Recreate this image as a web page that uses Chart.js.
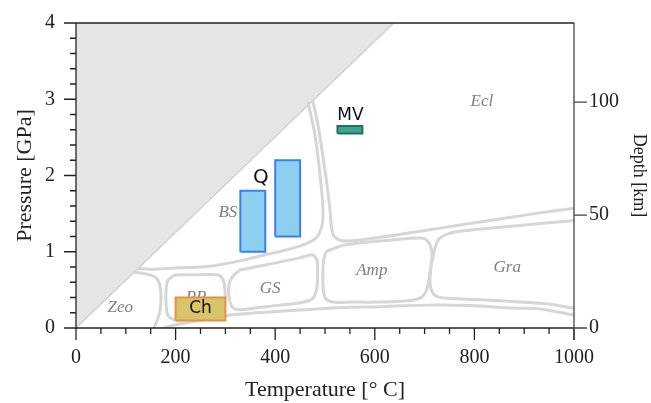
<!DOCTYPE html>
<html>
<head>
<meta charset="utf-8">
<script src="https://cdn.jsdelivr.net/npm/chart.js@4.4.1/dist/chart.umd.min.js"></script>
<style>
  html, body { margin: 0; padding: 0; background: #ffffff; }
  canvas { display: block; }
</style>
</head>
<body>
<canvas id="pt" width="651" height="403"></canvas>
<script>
// ---- axes -------------------------------------------------------------
const tempTicks  = [0, 200, 400, 600, 800, 1000];
const tempMinor  = [50, 100, 150, 250, 300, 350, 450, 500, 550, 650, 700, 750, 850, 900, 950];
const pressTicks = [0, 1, 2, 3, 4];
const pressMinor = [0.2, 0.4, 0.6, 0.8, 1.2, 1.4, 1.6, 1.8, 2.2, 2.4, 2.6, 2.8, 3.2, 3.4, 3.6, 3.8];
const depthTicks = [0, 50, 100];
const depthAtTop = 135;          // km at 4 GPa

// ---- forbidden (unrealistically low dT/dP) zone edge ------------------
const forbiddenEdge = [[0, 0], [638, 4]];

// ---- facies field boundaries [T (°C), P (GPa)] ------------------------
const blueschistEdge = [[466, 2.95], [478, 2.60], [486, 2.24], [492, 1.88], [496, 1.55], [494, 1.35],
  [482, 1.18], [456, 1.09], [420, 1.02], [380, 0.96], [329, 0.88], [269, 0.81], [209, 0.79],
  [149, 0.77], [124, 0.78]];
const eclogiteEdge = [[475, 2.99], [486, 2.66], [496, 2.24], [504, 1.88], [510, 1.55], [514, 1.28],
  [522, 1.18], [542, 1.14], [610, 1.19], [691, 1.27], [771, 1.35], [851, 1.43], [932, 1.51], [1000, 1.57]];
const granuliteEdge = [[1000, 1.41], [932, 1.37], [851, 1.32], [771, 1.27], [745, 1.23], [727, 1.15],
  [717, 0.94], [711, 0.69], [713, 0.51], [723, 0.42], [745, 0.39], [811, 0.37], [892, 0.34],
  [952, 0.31], [1000, 0.26]];
const amphiboliteEdge = [[512, 1.03], [540, 1.09], [610, 1.14], [681, 1.18], [701, 1.17], [711, 1.09],
  [715, 0.96], [711, 0.73], [705, 0.52], [695, 0.41], [671, 0.36], [610, 0.34], [550, 0.34],
  [515, 0.34], [500, 0.40], [496, 0.56], [496, 0.76], [498, 0.92], [503, 1.00], [512, 1.03]];
const greenschistEdge = [[329, 0.76], [390, 0.84], [450, 0.92], [474, 0.96], [484, 0.89], [485, 0.69],
  [483, 0.50], [474, 0.38], [450, 0.33], [410, 0.30], [369, 0.27], [329, 0.24], [313, 0.28],
  [307, 0.43], [307, 0.56], [315, 0.68], [329, 0.76]];
const prehnitePumpellyiteEdge = [[199, 0.695], [249, 0.70], [285, 0.695], [295, 0.64], [299, 0.50],
  [299, 0.30], [293, 0.18], [269, 0.14], [229, 0.12], [199, 0.105], [185, 0.16], [181, 0.30],
  [181, 0.50], [185, 0.63], [199, 0.695]];
const zeoliteEdge = [[116, 0.73], [140, 0.71], [156, 0.68], [165, 0.62], [170, 0.50], [170, 0.30],
  [166, 0.16], [157, 0]];
const lowGradeEdge = [[177, 0], [199, 0.04], [249, 0.10], [309, 0.17], [410, 0.22], [510, 0.26],
  [610, 0.28], [711, 0.30], [811, 0.29], [851, 0.27], [892, 0.26], [932, 0.25], [1000, 0.17]];

const faciesBoundaries = [blueschistEdge, eclogiteEdge, granuliteEdge, amphiboliteEdge,
  greenschistEdge, prehnitePumpellyiteEdge, zeoliteEdge, lowGradeEdge];

// ---- facies names and where they are written [T, P] -------------------
const faciesNames = ['Zeo', 'PP', 'GS', 'Amp', 'Gra', 'BS', 'Ecl'];
const faciesAt    = [[89, 0.27], [241, 0.40], [390, 0.52], [594, 0.75], [866, 0.79], [305, 1.51], [815, 2.97]];

// ---- P-T estimates: [Tmin, Tmax] and [Pmin, Pmax] ---------------------
const quartzT   = [[330, 380], [400, 450]];
const quartzP   = [[1.0, 1.8], [1.2, 2.2]];
const mvT       = [525, 575];
const mvP       = [2.55, 2.65];
const chloriteT = [200, 300];
const chloriteP = [0.1, 0.4];

// ---- text markers for the estimates [T, P] ----------------------------
const markerNames = ['Q', 'MV', 'Ch'];
const markerAt    = [[371, 1.97], [551, 2.78], [250, 0.25]];
const markerSizes = [20, 17, 17];

const pts = arr => arr.map(([x, y]) => ({ x, y }));

function boxSets(t, p, fillColor, edgeColor) {
  return [
    { data: pts([[t[0], p[1]], [t[1], p[1]]]), showLine: true, fill: { value: p[0] },
      backgroundColor: fillColor, borderColor: 'transparent', borderWidth: 0, pointRadius: 0, order: 20 },
    { data: pts([[t[0], p[0]], [t[0], p[1]], [t[1], p[1]], [t[1], p[0]], [t[0], p[0]]]), showLine: true,
      fill: false, borderColor: edgeColor, borderWidth: 2, borderJoinStyle: 'miter', pointRadius: 0, order: 10 }
  ];
}

const datasets = [];
datasets.push({
  data: pts(forbiddenEdge), showLine: true, fill: 'end',
  backgroundColor: '#e5e5e5', borderColor: '#d2d2d2', borderWidth: 1.5, pointRadius: 0, order: 50
});
faciesBoundaries.forEach(edge => datasets.push({
  data: pts(edge), showLine: true, fill: false, tension: 0.3,
  borderColor: '#d6d6d6', borderWidth: 3, borderCapStyle: 'round', borderJoinStyle: 'round',
  pointRadius: 0, order: 40
}));
quartzT.forEach((t, i) => datasets.push(...boxSets(t, quartzP[i], '#8ccfef', '#3d7ff2')));
datasets.push(...boxSets(mvT, mvP, '#3fa58f', '#1f735f'));
datasets.push(...boxSets(chloriteT, chloriteP, '#d8c46a', '#e8904a'));

// frame, major/minor tick marks
const frameTicks = {
  id: 'frameTicks',
  afterDraw(chart) {
    const { ctx, chartArea: a, scales } = chart;
    const xs = scales.x, ys = scales.y, ds = scales.y2;
    ctx.save();
    ctx.lineCap = 'butt';
    ctx.strokeStyle = '#222';
    ctx.lineWidth = 1.3;
    ctx.beginPath();
    ctx.moveTo(a.left, a.top); ctx.lineTo(a.right, a.top);
    ctx.moveTo(a.left, a.top); ctx.lineTo(a.left, a.bottom);
    ctx.moveTo(a.left, a.bottom); ctx.lineTo(a.right, a.bottom);
    tempTicks.forEach(v => { const px = xs.getPixelForValue(v); ctx.moveTo(px, a.bottom); ctx.lineTo(px, a.bottom + 12); });
    tempMinor.forEach(v => { const px = xs.getPixelForValue(v); ctx.moveTo(px, a.bottom); ctx.lineTo(px, a.bottom + 6); });
    pressTicks.forEach(v => { const py = ys.getPixelForValue(v); ctx.moveTo(a.left, py); ctx.lineTo(a.left - 12, py); });
    pressMinor.forEach(v => { const py = ys.getPixelForValue(v); ctx.moveTo(a.left, py); ctx.lineTo(a.left - 6, py); });
    ctx.stroke();
    ctx.strokeStyle = '#444';
    ctx.beginPath();
    ctx.moveTo(a.right, a.top); ctx.lineTo(a.right, a.bottom + 12);
    depthTicks.forEach(v => { const py = ds.getPixelForValue(v); ctx.moveTo(a.right, py); ctx.lineTo(a.right + 13, py); });
    ctx.stroke();
    ctx.restore();
  }
};

// facies names under the estimates, marker names on top
const fieldText = {
  id: 'fieldText',
  beforeDatasetsDraw(chart) {
    const { ctx, scales: { x, y } } = chart;
    ctx.save();
    ctx.font = 'italic 17px "Liberation Serif", serif';
    ctx.fillStyle = '#808080';
    ctx.textAlign = 'center';
    ctx.textBaseline = 'middle';
    faciesNames.forEach((n, i) => ctx.fillText(n, x.getPixelForValue(faciesAt[i][0]), y.getPixelForValue(faciesAt[i][1])));
    ctx.restore();
  },
  afterDatasetsDraw(chart) {
    const { ctx, scales: { x, y } } = chart;
    ctx.save();
    ctx.fillStyle = '#111';
    ctx.textAlign = 'center';
    ctx.textBaseline = 'middle';
    markerNames.forEach((n, i) => {
      ctx.font = markerSizes[i] + 'px "DejaVu Sans", sans-serif';
      ctx.fillText(n, x.getPixelForValue(markerAt[i][0]), y.getPixelForValue(markerAt[i][1]));
    });
    ctx.restore();
  }
};

const serif = '"Liberation Serif", "Times New Roman", serif';
const setTicks = list => scale => { scale.ticks = list.map(v => ({ value: v })); };
const plain = v => String(v);
// fixed axis boxes so the plot area sits at the same place every time
const fixBox = (w, h) => s => {
  if (w !== null) s.width = w;
  if (h !== null) s.height = h;
  s.paddingTop = 0; s.paddingBottom = 0; s.paddingLeft = 0; s.paddingRight = 0;
};

new Chart(document.getElementById('pt'), {
  type: 'scatter',
  data: { datasets },
  options: {
    responsive: false,
    animation: false,
    events: [],
    layout: { padding: { top: 23, left: 0, right: 0, bottom: 0 } },
    plugins: { legend: { display: false }, tooltip: { enabled: false } },
    scales: {
      x: {
        type: 'linear', position: 'bottom', min: 0, max: 1000,
        grid: { display: false, drawTicks: false }, border: { display: false },
        afterBuildTicks: setTicks(tempTicks),
        afterFit: fixBox(null, 75),
        ticks: { padding: 18, color: '#222', font: { family: serif, size: 20 }, maxRotation: 0, callback: plain },
        title: { display: true, text: 'Temperature [° C]', color: '#222',
                 font: { family: serif, size: 22 }, padding: { top: 0, bottom: 0 } }
      },
      y: {
        type: 'linear', position: 'left', min: 0, max: 4,
        grid: { display: false, drawTicks: false }, border: { display: false },
        afterBuildTicks: setTicks(pressTicks),
        afterFit: fixBox(76, null),
        ticks: { padding: 21, color: '#222', font: { family: serif, size: 20 }, callback: plain },
        title: { display: true, text: 'Pressure [GPa]', color: '#222',
                 font: { family: serif, size: 22 }, padding: { top: 12, bottom: 0 } }
      },
      y2: {
        type: 'linear', position: 'right', min: 0, max: depthAtTop,
        grid: { display: false, drawTicks: false }, border: { display: false },
        afterBuildTicks: setTicks(depthTicks),
        afterFit: fixBox(77, null),
        ticks: { padding: 15, color: '#222', font: { family: serif, size: 20 }, callback: plain },
        title: { display: true, text: 'Depth [km]', color: '#222',
                 font: { family: serif, size: 18 }, padding: { top: 1, bottom: 0 } }
      }
    }
  },
  plugins: [frameTicks, fieldText]
});
</script>
</body>
</html>
